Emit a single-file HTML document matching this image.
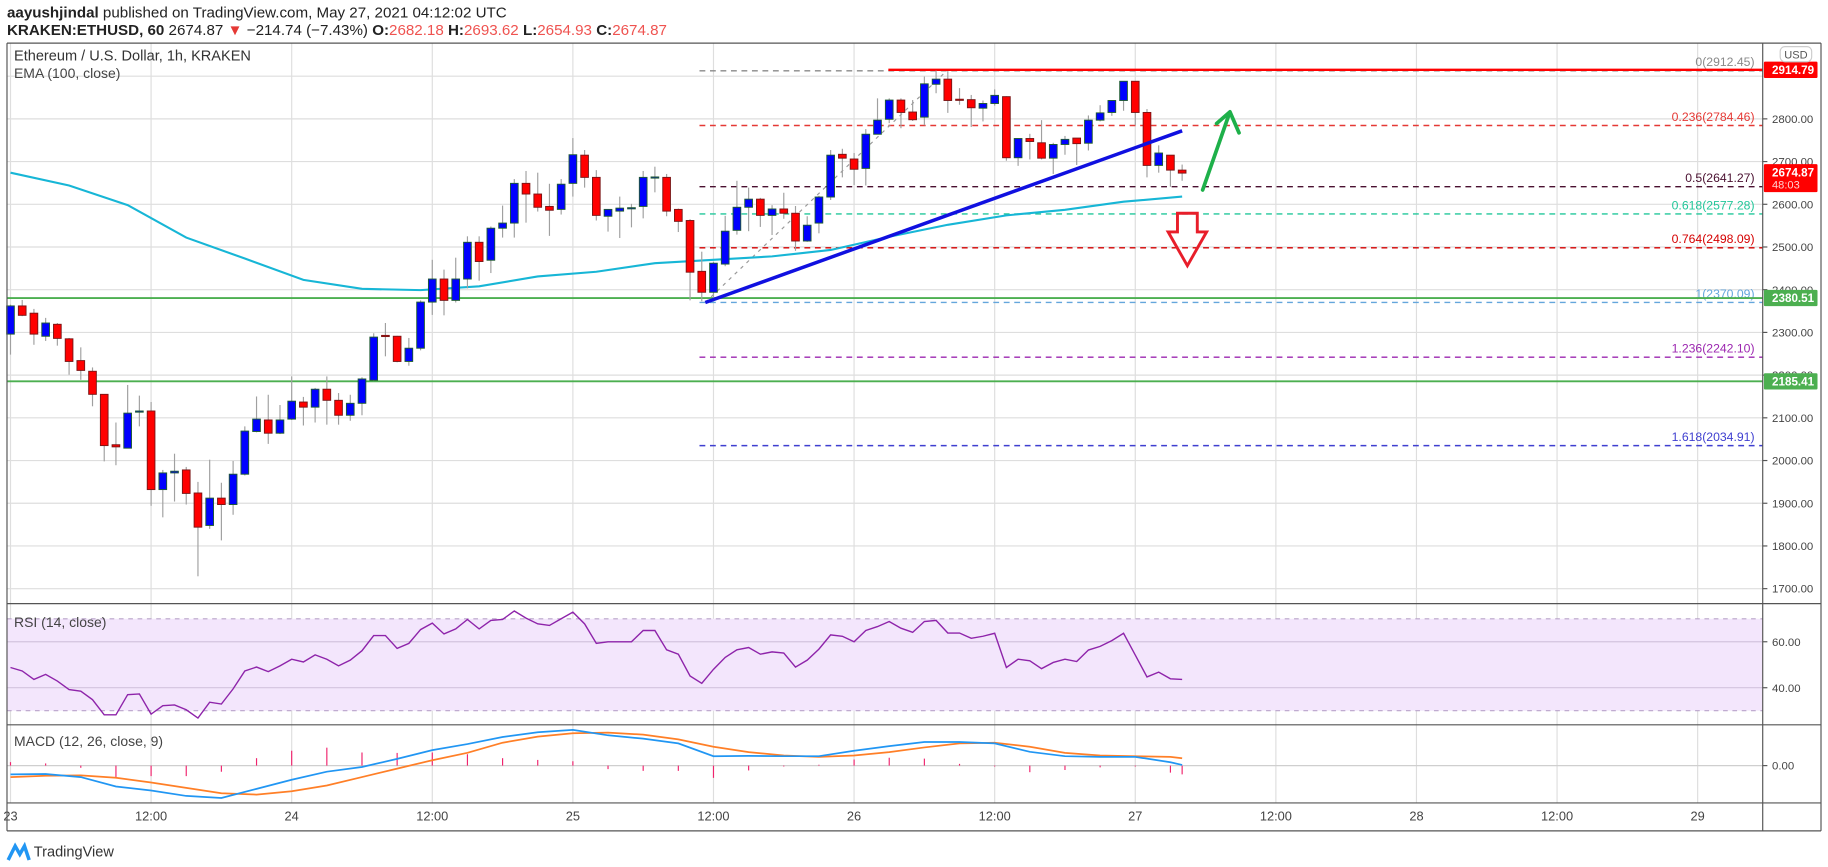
<!DOCTYPE html>
<html><head><meta charset="utf-8"><style>
html,body{margin:0;padding:0;background:#fff;}
svg{display:block;font-family:"Liberation Sans",sans-serif;}
</style></head><body>
<svg id="chart" width="1828" height="867" viewBox="0 0 1568 744" preserveAspectRatio="none" xmlns="http://www.w3.org/2000/svg">
<g id="hdr">
<text x="6" y="15" font-size="13" fill="#222"><tspan font-weight="bold">aayushjindal</tspan> published on TradingView.com, May 27, 2021 04:12:02 UTC</text>
<text x="6" y="30" font-size="13" fill="#222"><tspan font-weight="bold">KRAKEN:ETHUSD, 60</tspan> 2674.87 <tspan fill="#e53935">▼</tspan> −214.74 (−7.43%) <tspan font-weight="bold">O:</tspan><tspan fill="#ef5350">2682.18</tspan> <tspan font-weight="bold">H:</tspan><tspan fill="#ef5350">2693.62</tspan> <tspan font-weight="bold">L:</tspan><tspan fill="#ef5350">2654.93</tspan> <tspan font-weight="bold">C:</tspan><tspan fill="#ef5350">2674.87</tspan></text>
</g>
<g id="grid"></g>
<g id="fib"></g>
<g id="levels"></g>
<g id="ema"></g>
<g id="candles"></g>
<g id="draw"></g>
<g id="rsi"></g>
<g id="macd"></g>
<g id="axes"></g>
<text x="12" y="52" font-size="12.5" fill="#333">Ethereum / U.S. Dollar, 1h, KRAKEN</text>
<text x="12" y="67" font-size="12" fill="#444">EMA (100, close)</text>
<text x="12" y="538" font-size="12" fill="#444">RSI (14, close)</text>
<text x="12" y="640" font-size="12" fill="#444">MACD (12, 26, close, 9)</text>
<g>
<path d="M7 738 L13 726 L17 733 L21 726 L25 738" fill="none" stroke="#2196f3" stroke-width="3"/>
<text x="29" y="735" font-size="12.5" fill="#333">TradingView</text>
</g>
</svg>
<script>
const opens=[2296,2362,2345,2291,2319,2285,2234,2209,2155,2037,2029,2114,2116,1932,1971,1978,1924,1848,1912,1897,1968,2068,2095,2064,2097,2137,2125,2167,2141,2106,2134,2188,2293,2291,2232,2263,2371,2425,2375,2425,2511,2469,2544,2556,2649,2624,2595,2588,2649,2715,2663,2572,2584,2591,2595,2663,2663,2588,2562,2443,2394,2460,2539,2593,2612,2574,2589,2579,2514,2556,2617,2717,2706,2684,2764,2799,2844,2816,2804,2881,2893,2846,2845,2825,2836,2852,2709,2754,2744,2708,2740,2755,2743,2797,2815,2843,2888,2815,2691,2715,2680];
const highs=[2365,2376,2355,2334,2322,2287,2265,2218,2155,2089,2177,2152,2137,1978,2016,1985,1950,2002,1948,1999,2080,2150,2154,2130,2197,2149,2170,2197,2158,2154,2195,2298,2322,2292,2287,2375,2470,2447,2475,2525,2525,2548,2597,2659,2678,2674,2648,2659,2755,2727,2680,2589,2618,2601,2678,2688,2671,2590,2565,2489,2465,2573,2655,2639,2615,2598,2627,2596,2572,2620,2727,2730,2720,2776,2848,2848,2848,2844,2899,2913,2912,2872,2856,2843,2869,2853,2754,2765,2797,2744,2760,2755,2808,2832,2843,2888,2888,2823,2738,2715,2693];
const lows=[2248,2338,2271,2280,2269,2201,2189,2127,1998,1989,2029,2080,1894,1867,1904,1897,1729,1840,1813,1873,1965,2066,2039,2062,2095,2082,2089,2084,2084,2093,2106,2186,2244,2230,2222,2258,2341,2340,2370,2403,2421,2439,2522,2522,2557,2583,2526,2576,2618,2639,2562,2536,2521,2546,2567,2628,2572,2535,2375,2373,2373,2455,2529,2537,2547,2528,2566,2491,2512,2532,2610,2663,2645,2644,2764,2790,2778,2795,2785,2860,2814,2833,2781,2794,2831,2702,2690,2705,2705,2671,2716,2692,2726,2794,2807,2819,2785,2663,2674,2641,2655];
const closes=[2362,2340,2296,2322,2286,2232,2211,2155,2035,2032,2111,2116,1932,1971,1975,1923,1844,1912,1897,1968,2069,2097,2064,2095,2139,2125,2167,2141,2106,2134,2191,2289,2291,2232,2263,2371,2425,2375,2425,2511,2466,2544,2556,2649,2624,2593,2586,2647,2716,2663,2574,2588,2591,2592,2663,2664,2584,2560,2441,2394,2462,2537,2593,2612,2574,2589,2579,2514,2551,2617,2715,2708,2682,2764,2797,2844,2815,2798,2882,2893,2843,2845,2826,2836,2855,2709,2754,2747,2708,2740,2752,2742,2797,2814,2843,2888,2815,2691,2720,2680,2673];
const emaIdx=[0,5,10,15,20,25,30,35,40,45,50,55,60,65,70,75,80,85,90,95,100];
const emaVals=[2674,2644,2598,2522,2473,2423,2402,2399,2408,2431,2442,2462,2470,2478,2493,2524,2552,2574,2587,2606,2618];
const rsiVals=[48.8,47.3,43.6,45.8,42.9,39.2,38.5,34.8,28.2,28.2,37.0,37.3,28.5,32.2,32.5,30.4,26.8,33.7,32.9,39.5,47.3,49.0,47.0,49.5,52.4,51.2,54.3,52.4,49.5,52.0,56.1,62.7,62.7,57.1,59.3,65.3,68.1,63.4,65.6,69.7,65.6,69.3,69.7,73.4,70.3,67.8,67.1,70.0,72.9,67.8,59.3,60.0,60.0,60.0,64.9,64.9,56.5,54.6,45.1,41.9,48.0,53.2,56.5,57.5,54.6,55.6,55.1,49.0,52.0,56.8,63.0,62.4,60.0,64.9,66.6,68.8,65.9,64.1,68.8,69.3,63.8,63.8,61.5,62.4,63.7,48.8,52.4,51.7,48.3,51.0,52.4,51.4,56.4,58.0,60.5,63.7,54.2,44.7,46.8,43.9,43.6];
const macdIdx=[0,3,6,9,12,15,18,21,24,27,30,33,36,39,42,45,48,51,54,57,60,63,66,69,72,75,78,81,84,87,90,93,96,99,100];
const macdVals=[-13,-12.5,-17,-31,-37,-45,-48,-34.5,-21,-9,-2,10,23,32,42.5,49.5,53,45,40,33,14,14.5,14,14,22,29,35,35,33,20.5,14,13,13,5,1];
const signalVals=[-17,-15,-14.5,-18,-25,-33,-41,-43,-38,-29.5,-17,-4.5,8,19,34,43,48,49,46,39,28,20,15,13,15,20,27,33,34,28,19,15,14,13,11];
const priceTicks=[2800,2700,2600,2500,2400,2300,2200,2100,2000,1900,1800,1700];
const timeLabels=["23","12:00","24","12:00","25","12:00","26","12:00","27","12:00","28","12:00","29"];
const fibRatios=["0","0.236","0.5","0.618","0.764","1","1.236","1.618"];
const fibPrices=[2912.45,2784.46,2641.27,2577.28,2498.09,2370.09,2242.10,2034.91];
const fibColors=["#8a8a8a","#e53935","#4a1030","#22c79a","#d50000","#64a6dc","#9c27b0","#3f3fd0"];
const greenLevels=[2380.51,2185.41];
const resistance=2914.79;
const lastPrice=2674.87;

const NS="http://www.w3.org/2000/svg";
const X0=9,DX=10.05,AX=1512,RB=1562,LEFT=6;
const xOf=i=>X0+DX*i;
const yP=p=>102+(2800-p)*0.3665;
const yR=v=>531+(70-v)*1.972;
const yM=v=>657-v*0.578;
function mk(parent,tag,attrs,txt){const e=document.createElementNS(NS,tag);for(const k in attrs)e.setAttribute(k,attrs[k]);if(txt!==undefined)e.textContent=txt;document.getElementById(parent).appendChild(e);return e;}

for(let k=0;k<timeLabels.length;k++){const x=xOf(k*12);
 const g=mk('grid','line',{x1:x,x2:x,y1:37,y2:689,stroke:'#dedede','stroke-width':1});
 
 
 const t=mk('axes','text',{x:x,y:704,'font-size':11,fill:'#444','text-anchor':'middle'},timeLabels[k]);
 
 
}
for(let p=1700;p<=2900;p+=100){const g=mk('grid','line',{x1:LEFT,x2:AX,y1:yP(p),y2:yP(p),stroke:'#dedede','stroke-width':1});
 
 }
priceTicks.forEach(p=>{const y=yP(p);
 mk('axes','line',{x1:AX,x2:AX+4,y1:y,y2:y,stroke:'#555'});
 const t=mk('axes','text',{x:AX+8,y:y+3.5,'font-size':9.8,fill:'#444'},p.toFixed(2));
 
 });

fibPrices.forEach((p,k)=>{const y=yP(p);
 const l=mk('fib','line',{x1:600,x2:AX,y1:y,y2:y,stroke:fibColors[k],'stroke-width':1.2,'stroke-dasharray':'5,4'});
 
 
 const t=mk('fib','text',{x:1505,y:y-4,'font-size':10.5,fill:fibColors[k],'text-anchor':'end'},fibRatios[k]+'('+p.toFixed(2)+')');
 
 });
{const l=mk('fib','line',{x1:xOf(59.3),y1:yP(fibPrices[5]),x2:xOf(79.9),y2:yP(fibPrices[0]),stroke:'#999','stroke-width':1,'stroke-dasharray':'3,4'});
 
 }

greenLevels.forEach(p=>{const l=mk('levels','line',{x1:LEFT,x2:AX,y1:yP(p),y2:yP(p),stroke:'#4caf50','stroke-width':1.6});
 
 });
{const l=mk('levels','line',{x1:762,x2:AX,y1:yP(resistance),y2:yP(resistance),stroke:'#ff0000','stroke-width':2});
 
 }

{const pts=emaIdx.map((i,k)=>xOf(i)+','+yP(emaVals[k])).join(' ');
 const l=mk('ema','polyline',{points:pts,fill:'none',stroke:'#17b6d6','stroke-width':1.8});
 
 }

for(let i=0;i<opens.length;i++){const x=xOf(i),o=opens[i],c=closes[i],up=c>=o;
 const w=mk('candles','line',{x1:x,x2:x,y1:yP(highs[i]),y2:yP(lows[i]),stroke:'#a0a0a0','stroke-width':1});
 
 
 const top=yP(Math.max(o,c)),h=Math.max(1,Math.abs(yP(o)-yP(c)));
 const b=mk('candles','rect',{x:x-3.3,y:top,width:6.6,height:h,fill:up?'#0000ff':'#ff0000',stroke:up?'#1e5a32':'#7a1515','stroke-width':0.8});
 
 }

{const l=mk('draw','line',{x1:xOf(59.3),y1:yP(2370),x2:xOf(100),y2:yP(2772),stroke:'#1010e0','stroke-width':3});
 
 
 const g=mk('draw','path',{d:'M1031.6 163 L1055 96 M1043.6 106 L1055 96 L1062.8 114',fill:'none',stroke:'#1eb04a','stroke-width':3.2,'stroke-linecap':'round','stroke-linejoin':'round'});
 
 
 const r=mk('draw','path',{d:'M1010 183 L1027 183 L1027 199 L1035 199 L1018.5 228 L1002 199 L1010 199 Z',fill:'none',stroke:'#e81e2a','stroke-width':2.5});
 
 }

{const bg=mk('rsi','rect',{x:LEFT,y:yR(70),width:AX-LEFT,height:yR(30)-yR(70),fill:'#f3e6fc'});
 
 
 [70,30].forEach(v=>mk('rsi','line',{x1:LEFT,x2:AX,y1:yR(v),y2:yR(v),stroke:'#b9a3c9','stroke-dasharray':'4,4'}));
 [60,40].forEach(v=>{mk('rsi','line',{x1:LEFT,x2:AX,y1:yR(v),y2:yR(v),stroke:'#d3c4de'});
  mk('axes','line',{x1:AX,x2:AX+4,y1:yR(v),y2:yR(v),stroke:'#555'});
  const t=mk('axes','text',{x:AX+8,y:yR(v)+3.5,'font-size':9.8,fill:'#444'},v.toFixed(2));
  
  });
 const pts=rsiVals.map((v,i)=>xOf(i)+','+yR(v)).join(' ');
 const l=mk('rsi','polyline',{points:pts,fill:'none',stroke:'#8e24aa','stroke-width':1.2});
 
 }

{mk('macd','line',{x1:LEFT,x2:AX,y1:yM(0),y2:yM(0),stroke:'#cfcfcf'});
 mk('axes','line',{x1:AX,x2:AX+4,y1:yM(0),y2:yM(0),stroke:'#555'});
 const t=mk('axes','text',{x:AX+8,y:yM(0)+3.5,'font-size':9.8,fill:'#444'},'0.00');
 
 
 macdIdx.forEach((i,k)=>{const h=(macdVals[k]-signalVals[k])*1.3;
  const b=mk('macd','line',{x1:xOf(i),x2:xOf(i),y1:yM(0),y2:yM(h),stroke:'#f0246e','stroke-width':1});
  
  });
 const s=mk('macd','polyline',{points:macdIdx.map((i,k)=>xOf(i)+','+yM(signalVals[k])).join(' '),fill:'none',stroke:'#ff7f27','stroke-width':1.5});
 
 
 const m=mk('macd','polyline',{points:macdIdx.map((i,k)=>xOf(i)+','+yM(macdVals[k])).join(' '),fill:'none',stroke:'#2196f3','stroke-width':1.5});
 
 }

[[LEFT,37,RB,37],[LEFT,518,RB,518],[LEFT,622,RB,622],[LEFT,689,RB,689],[LEFT,713,RB,713],[LEFT,37,LEFT,713],[AX,37,AX,713],[RB,37,RB,713]].forEach(a=>{
 const l=mk('axes','line',{x1:a[0],y1:a[1],x2:a[2],y2:a[3],stroke:'#555','stroke-width':1});
 
 });

function tag(p,color,label,name,h){const y=yP(p);
 const r=mk('axes','rect',{x:AX+1,y:y-7,width:46,height:h||14,fill:color,rx:1});
 
 
 mk('axes','text',{x:AX+8,y:y+3.5,'font-size':10,'font-weight':'bold',fill:'#fff'},label);}
tag(resistance,'#ff0000',resistance.toFixed(2),'resistance-price-tag');
tag(lastPrice,'#ff0000',lastPrice.toFixed(2),'last-price-tag',24);
mk('axes','text',{x:AX+8,y:yP(lastPrice)+14,'font-size':9.5,fill:'#ffd0d0'},'48:03');
greenLevels.forEach(p=>tag(p,'#4caf50',p.toFixed(2),'support-price-tag'));
{const r=mk('axes','rect',{x:AX+15,y:40,width:27,height:13,rx:4,fill:'#fff',stroke:'#ccc'});
 
 
 mk('axes','text',{x:AX+28.5,y:50,'font-size':9.5,fill:'#555','text-anchor':'middle'},'USD');}
</script>
</body></html>
